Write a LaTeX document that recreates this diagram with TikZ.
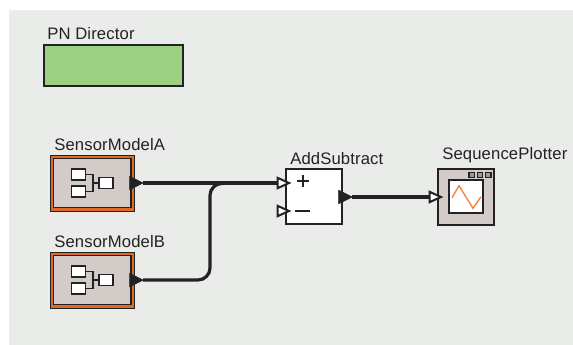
\documentclass[tikz,border=0pt]{standalone}
\usepackage{fontspec}
\setmainfont{Liberation Sans}[LetterSpace=0.8]
\usetikzlibrary{shapes.geometric}
\definecolor{canvas}{HTML}{EAECEA}
\definecolor{ink}{HTML}{222222}
\definecolor{greenbox}{HTML}{9CD084}
\definecolor{taupe}{HTML}{D2CBC8}
\definecolor{rust}{HTML}{DE6A2A}
\definecolor{wave}{HTML}{F0803C}
\tikzset{
  px/.style 2 args={minimum width=#1*0.75pt,minimum height=#2*0.75pt,inner sep=0pt,outer sep=0pt,rectangle},
  label text/.style={font=\fontsize{12.5pt}{14pt}\selectfont,text=ink,inner sep=0pt,anchor=base west},
  shell/.style={draw=ink,line width=1.1pt},
  wire/.style={draw=ink,line width=2.4pt},
  bent wire/.style={wire,rounded corners=9pt},
  thin wire/.style={draw=ink,line width=1pt},
  port/.style={isosceles triangle,isosceles triangle apex angle=60,isosceles triangle stretches,
    inner sep=0pt,outer sep=0pt,anchor=apex,draw=ink},
  outport/.style={port,fill=ink,line width=0.5pt,minimum height=10pt,minimum width=10pt},
  inport/.style={port,fill=white,line width=1.5pt,minimum height=8.6pt,minimum width=7.8pt},
  actor/.style={px={84}{56},draw=ink,line width=0.7pt,fill=rust},
  actor core/.style={px={77.5}{49.5},draw=ink,line width=0.9pt,fill=taupe},
  mini/.style={px={14}{11},draw=ink,fill=white,line width=1.1pt},
  pip/.style={px={5.5}{5.5},draw=ink,fill=taupe!70!ink,line width=0.9pt}
}
\begin{document}
\begin{tikzpicture}[x=0.75pt,y=-0.75pt]
\useasboundingbox (0,0) rectangle (573,345);
\fill[white] (0,0) rectangle (573,345);
\node[px={564}{335},fill=canvas] (bg) at (291,177.5) {};

\node[px={139}{41},shell,fill=greenbox] (director) at (113.5,65.5) {};
\node[label text] (directorlabel) at (47,39.5) {PN Director};

% SensorModelA
\node[actor] (a) at (92.2,183) {};
\node[actor core] (acore) at (92.2,183) {};
\node[mini] (a1) at (78.7,174.5) {};
\node[mini] (a2) at (78.7,191.5) {};
\node[mini] (a3) at (106,183) {};
\coordinate (aj) at (93,183);
\draw[thin wire] (a1.east) -| (aj) |- (a2.east);
\draw[thin wire] (aj) -- (a3.west);
\node[label text] (alabel) at (54,150.5) {SensorModelA};

% SensorModelB
\node[actor] (b) at (92.2,280) {};
\node[actor core] (bcore) at (92.2,280) {};
\node[mini] (b1) at (78.7,271.5) {};
\node[mini] (b2) at (78.7,288.5) {};
\node[mini] (b3) at (106,280) {};
\coordinate (bj) at (93,280);
\draw[thin wire] (b1.east) -| (bj) |- (b2.east);
\draw[thin wire] (bj) -- (b3.west);
\node[label text] (blabel) at (54,247.5) {SensorModelB};

% AddSubtract
\node[px={56}{55},shell,fill=white] (add) at (314,196.5) {};
\node[label text] (addlabel) at (290,164.5) {AddSubtract};
\node[px={1}{1}] (plus) at (303,181) {};
\draw[ink,line width=1.5pt] (297,181) -- (309,181) (303,175) -- (303,187);
\node[px={1}{1}] (minus) at (302.5,211) {};
\draw[ink,line width=1.7pt] (295,211) -- (310,211);

% SequencePlotter
\node[px={56}{56},shell,fill=taupe] (plot) at (466,197) {};
\node[px={34}{33},shell,fill=white] (screen) at (466,196.5) {};
\node[pip] (p1) at (471.7,175) {};
\node[pip] (p2) at (480,175) {};
\node[pip] (p3) at (488.3,175) {};
\draw[wave,line width=1pt] (452,197.7) -- (459,185.7) -- (473,208.3) -- (481,196.7);
\node[label text] (plotlabel) at (442,159.5) {SequencePlotter};

% Ports
\node[outport] (aout) at (143,183) {};
\node[outport] (bout) at (143,280) {};
\node[outport] (addout) at (352,197) {};
\node[inport] (in1) at (289,183) {};
\node[inport] (in2) at (289,211) {};
\node[inport] (plotin) at (441,197) {};

% Connectors
\draw[wire] (aout.apex) -- (in1.west);
\draw[bent wire] (bout.apex) -- (210,280) -- (210,183.5) -- (in1.west);
\draw[wire] (addout.apex) -- (plotin.west);
\end{tikzpicture}
\end{document}
